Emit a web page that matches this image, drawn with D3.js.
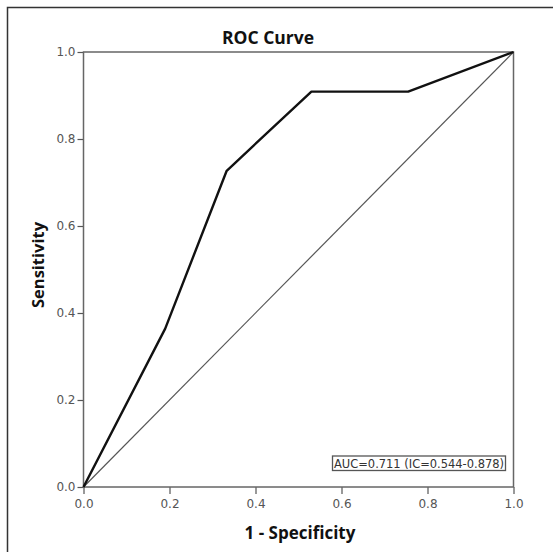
<!DOCTYPE html>
<html>
<head>
<meta charset="utf-8">
<script src="https://cdn.jsdelivr.net/npm/d3@7"></script>
<style>
  body { margin: 0; background: #fff; }
  .tick text { font-family: "DejaVu Sans", sans-serif; font-size: 12px; fill: #555; }
  .tick line { stroke: #555; stroke-width: 1.2; }
  .domain { display: none; }
  .title, .axis-description { font-family: "Open Sans", sans-serif; font-weight: bold; fill: #111; }
</style>
</head>
<body>
<svg class="chart"></svg>
<script>
// ROC points: 1 - specificity and sensitivity
const fpr = [0, 0.19, 0.333, 0.53, 0.755, 1];
const tpr = [0, 0.364, 0.727, 0.909, 0.909, 1];
const refLine = [0, 1];
const tickValues = [0, 0.2, 0.4, 0.6, 0.8, 1.0];
const aucLabel = "AUC=0.711 (IC=0.544-0.878)";

let margin = {top: 52, right: 39.5, bottom: 65, left: 83.5};
let widthChart = 553 - margin.left - margin.right;
let heightChart = 552 - margin.top - margin.bottom;

let svg = d3.select(".chart").attr("width", 553).attr("height", 552);

// outer frame (only left/top visible in the original)
svg.append("rect")
  .attr("x", 7.5).attr("y", 7.5)
  .attr("width", 560).attr("height", 560)
  .attr("fill", "none").attr("stroke", "#333").attr("stroke-width", 1.5);

let chart = svg.append("g")
  .attr("transform", "translate(" + margin.left + "," + margin.top + ")");

let x = d3.scaleLinear().domain([0, 1]).range([0, widthChart]);
let y = d3.scaleLinear().domain([0, 1]).range([heightChart, 0]);

let xAxis = d3.axisBottom(x).tickValues(tickValues).tickFormat(d3.format(".1f"))
  .tickSize(7).tickPadding(5);
let yAxis = d3.axisLeft(y).tickValues(tickValues).tickFormat(d3.format(".1f"))
  .tickSize(6).tickPadding(2);

chart.append("g").attr("class", "axis")
  .attr("transform", "translate(0," + heightChart + ")")
  .call(xAxis);
chart.append("g").attr("class", "axis").call(yAxis);

// plot frame
chart.append("rect")
  .attr("x", 0).attr("y", 0)
  .attr("width", widthChart).attr("height", heightChart)
  .attr("fill", "none").attr("stroke", "#666").attr("stroke-width", 1.5);

// reference diagonal
chart.append("line")
  .attr("x1", x(refLine[0])).attr("y1", y(refLine[0]))
  .attr("x2", x(refLine[1])).attr("y2", y(refLine[1]))
  .attr("stroke", "#555").attr("stroke-width", 1.2);

// roc curve
let line = d3.line().x((d, i) => x(fpr[i])).y((d, i) => y(tpr[i]));
chart.append("path")
  .datum(fpr)
  .attr("d", line)
  .attr("fill", "none")
  .attr("stroke", "#111")
  .attr("stroke-width", 2.4)
  .attr("stroke-linejoin", "round");

// AUC box
chart.append("rect")
  .attr("x", 332.5 - margin.left).attr("y", 456 - margin.top)
  .attr("width", 173).attr("height", 14.5)
  .attr("fill", "#fff").attr("stroke", "#555").attr("stroke-width", 1.3);
chart.append("text").text(aucLabel)
  .attr("x", 334 - margin.left).attr("y", 467.5 - margin.top)
  .attr("textLength", 170).attr("lengthAdjust", "spacingAndGlyphs")
  .style("font-family", "DejaVu Sans, sans-serif")
  .style("font-size", "11.5px")
  .attr("fill", "#333");

// titles
svg.append("text").text("ROC Curve")
  .attr("class", "title")
  .attr("x", 268).attr("y", 44)
  .attr("text-anchor", "middle")
  .style("font-size", "17.5px");

svg.append("text").text("1 - Specificity")
  .attr("class", "axis-description")
  .attr("x", 300).attr("y", 539)
  .attr("text-anchor", "middle")
  .style("font-size", "17px");

svg.append("text").text("Sensitivity")
  .attr("class", "axis-description")
  .attr("text-anchor", "middle")
  .attr("transform", "translate(44,265) rotate(-90)")
  .style("font-size", "16.5px");
</script>
</body>
</html>
